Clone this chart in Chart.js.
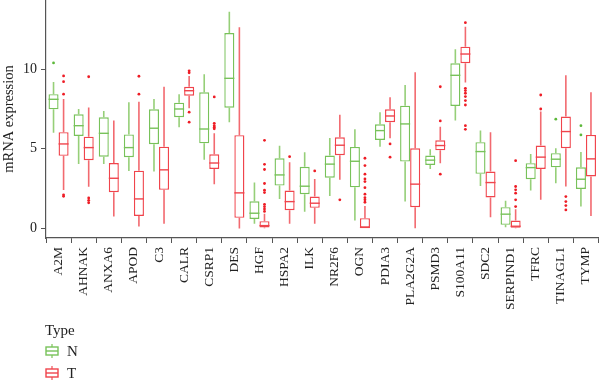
<!DOCTYPE html>
<html>
<head>
<meta charset="utf-8">
<script src="https://cdn.jsdelivr.net/npm/chart.js@4/dist/chart.umd.min.js"></script>
<style>
	body { margin: 0; background: #fff; }
	#wrap { position: relative; width: 600px; height: 382px; }
	#legend { position: absolute; left: 45px; top: 320px; font-family: "Liberation Serif", serif; font-size: 15px; color: #222; }
	#legend .row { display: flex; align-items: center; height: 22px; }
	#legend svg { margin-right: 8px; }
</style>
</head>
<body>
<div id="wrap">
	<canvas id="chart" width="600" height="382"></canvas>
	<div id="legend">
		<div style="height:20px;line-height:20px">Type</div>
		<div class="row"><svg width="14" height="16"><line x1="7" y1="1" x2="7" y2="15" stroke="#8fcc6e" stroke-width="1.4"/><rect x="1" y="4" width="12" height="8" fill="#fff" stroke="#78c25a" stroke-width="1.4"/><line x1="1" y1="8" x2="13" y2="8" stroke="#78c25a" stroke-width="1.4"/></svg>N</div>
		<div class="row"><svg width="14" height="16"><line x1="7" y1="1" x2="7" y2="15" stroke="#f26a70" stroke-width="1.4"/><rect x="1" y="4" width="12" height="8" fill="#fff" stroke="#f0444c" stroke-width="1.4"/><line x1="1" y1="8" x2="13" y2="8" stroke="#f0444c" stroke-width="1.4"/></svg>T</div>
	</div>
</div>
<script>
	const genes = ["A2M", "AHNAK", "ANXA6", "APOD", "C3", "CALR", "CSRP1", "DES", "HGF", "HSPA2", "ILK",
		"NR2F6", "OGN", "PDIA3", "PLA2G2A", "PSMD3", "S100A11", "SDC2", "SERPIND1", "TFRC", "TINAGL1", "TYMP"];

	// [lower whisker, Q1, median, Q3, upper whisker]
	const nStats = [
		[6.0, 7.48, 8.11, 8.43, 9.2], [4.04, 5.8, 6.45, 7.17, 7.5], [4.04, 4.5, 5.97, 6.98, 7.38],
		[3.6, 4.47, 5.07, 5.9, 7.92], [3.56, 5.28, 6.29, 7.48, 8.13], [6.35, 6.98, 7.5, 7.9, 8.43],
		[4.3, 5.34, 6.24, 8.55, 9.69], [6.67, 7.58, 9.43, 12.28, 13.62], [0.27, 0.58, 0.94, 1.69, 2.87],
		[1.84, 2.68, 3.35, 4.4, 5.18], [1.03, 2.14, 2.64, 3.86, 4.78], [2.03, 3.18, 4.03, 4.57, 5.68],
		[0.48, 2.57, 4.21, 5.11, 6.22], [5.13, 5.55, 6.14, 6.54, 7.3], [1.67, 4.19, 6.56, 7.71, 9.01],
		[3.73, 3.98, 4.28, 4.57, 4.97], [6.77, 7.69, 9.62, 10.38, 11.26], [2.66, 3.42, 4.82, 5.41, 6.14],
		[0.06, 0.21, 0.88, 1.32, 1.72], [2.37, 3.08, 3.81, 4.09, 4.67], [2.83, 3.83, 4.34, 4.72, 5.03],
		[1.36, 2.47, 3.08, 3.83, 4.8]
	];
	const tStats = [
		[2.4, 4.55, 5.3, 6.04, 8.13], [2.6, 4.28, 5.07, 5.76, 7.6], [0.73, 2.26, 3.14, 4.1, 6.77],
		[0.1, 0.77, 1.84, 3.62, 7.96], [0.27, 2.41, 3.67, 5.13, 8.9], [7.55, 8.34, 8.65, 8.9, 9.58],
		[2.76, 3.73, 4.1, 4.65, 5.97], [-0.02, 0.65, 2.22, 5.85, 12.64], [0.0, 0.04, 0.16, 0.44, 0.9],
		[0.27, 1.13, 1.67, 2.37, 4.15], [0.27, 1.28, 1.57, 1.99, 3.1], [3.04, 4.59, 5.22, 5.72, 7.13],
		[0.0, 0.0, 0.05, 0.63, 1.4], [5.66, 6.67, 7.06, 7.48, 8.24], [0.0, 1.32, 2.77, 5.03, 9.81],
		[4.09, 4.9, 5.2, 5.53, 6.39], [9.16, 10.38, 10.96, 11.42, 12.68], [0.69, 1.93, 2.87, 3.56, 6.04],
		[0.0, 0.02, 0.12, 0.48, 1.19], [1.78, 3.73, 4.47, 5.2, 7.34], [2.62, 5.03, 6.08, 7.02, 9.62],
		[0.77, 3.25, 4.36, 5.87, 8.55]
	];
	const nOutliers = [
		[10.4], [], [], [], [], [], [], [], [], [], [], [], [], [], [], [], [], [], [], [], [6.86], [6.45, 5.87]
	];
	const tOutliers = [
		[9.58, 9.22, 8.43, 2.1, 2.0], [9.53, 1.9, 1.75, 1.6], [], [9.56, 8.43], [], [9.9, 9.78, 7.3, 6.67],
		[8.26, 6.6, 6.45, 6.35, 6.25], [], [5.53, 4.02, 3.69, 2.81, 2.39, 2.24, 1.5, 1.35, 1.2, 1.05],
		[4.5], [3.6], [1.78], [4.4, 3.94, 3.4, 3.1, 2.93, 2.55, 2.14, 1.92, 1.78, 1.63], [5.3, 4.47], [],
		[8.9, 6.75, 3.4], [12.93, 8.8, 8.66, 8.49, 8.28, 8.03, 7.75, 6.45, 6.22], [],
		[4.25, 2.62, 2.41, 2.2, 1.78, 1.36], [8.38, 7.5], [1.99, 1.67, 1.42, 1.15], []
	];
	const yTicks = [0, 5, 10];

	const serif = "'Liberation Serif', 'Times New Roman', serif";

	const boxParts = {
		id: "boxParts",
		beforeDatasetsDraw(chart) {
			let ctx = chart.ctx, y = chart.scales.y;
			chart.data.datasets.forEach(function(ds, d) {
				let meta = chart.getDatasetMeta(d);
				ctx.save();
				ctx.strokeStyle = ds.whiskerColor;
				ctx.lineWidth = 1.6;
				ds.stats.forEach(function(s, i) {
					let x = meta.data[i].x;
					ctx.beginPath();
					ctx.moveTo(x, y.getPixelForValue(s[0]));
					ctx.lineTo(x, y.getPixelForValue(s[1]));
					ctx.moveTo(x, y.getPixelForValue(s[3]));
					ctx.lineTo(x, y.getPixelForValue(s[4]));
					ctx.stroke();
				});
				ctx.restore();
			});
		},
		afterDatasetsDraw(chart) {
			let ctx = chart.ctx, y = chart.scales.y;
			chart.data.datasets.forEach(function(ds, d) {
				let meta = chart.getDatasetMeta(d);
				ctx.save();
				ds.stats.forEach(function(s, i) {
					let bar = meta.data[i], half = bar.width / 2;
					ctx.strokeStyle = ds.borderColor;
					ctx.lineWidth = 1.4;
					ctx.beginPath();
					ctx.moveTo(bar.x - half, y.getPixelForValue(s[2]));
					ctx.lineTo(bar.x + half, y.getPixelForValue(s[2]));
					ctx.stroke();
					ctx.fillStyle = ds.outlierColor;
					for (let v of ds.outliers[i]) {
						ctx.beginPath();
						ctx.arc(bar.x, y.getPixelForValue(v), 1.4, 0, Math.PI * 2);
						ctx.fill();
					}
				});
				ctx.restore();
			});
		}
	};

	function noPad(scale) {
		scale.paddingTop = 0;
		scale.paddingBottom = 0;
		scale.paddingLeft = 0;
		scale.paddingRight = 0;
	}

	new Chart(document.getElementById("chart"), {
		type: "bar",
		data: {
			labels: genes,
			datasets: [{
				label: "N",
				data: nStats.map(s => [s[1], s[3]]),
				stats: nStats,
				outliers: nOutliers,
				backgroundColor: "#ffffff",
				borderColor: "#78c25a",
				whiskerColor: "#96cf78",
				outlierColor: "#5cb83a",
				borderWidth: 1.4,
				borderSkipped: false
			}, {
				label: "T",
				data: tStats.map(s => [s[1], s[3]]),
				stats: tStats,
				outliers: tOutliers,
				backgroundColor: "#ffffff",
				borderColor: "#f0444c",
				whiskerColor: "#f26a70",
				outlierColor: "#ee1c25",
				borderWidth: 1.4,
				borderSkipped: false
			}]
		},
		options: {
			responsive: false,
			animation: false,
			layout: { padding: { top: 0, right: 1.5, bottom: 0, left: 0 } },
			datasets: { bar: { categoryPercentage: 0.8, barPercentage: 1.0 } },
			plugins: {
				legend: { display: false },
				tooltip: { enabled: false }
			},
			scales: {
				x: {
					grid: { display: true, drawOnChartArea: false, drawTicks: true, tickLength: 5, color: "#555" },
					border: { display: true, color: "#555", width: 1.2 },
					ticks: {
						autoSkip: false,
						minRotation: 90,
						maxRotation: 90,
						padding: 4,
						color: "#222",
						font: { family: serif, size: 13.5 }
					},
					afterFit: function(scale) { scale.height = 144; noPad(scale); }
				},
				y: {
					min: -0.62,
					max: 14.36,
					grid: { display: true, drawOnChartArea: false, drawTicks: true, tickLength: 5, color: "#555" },
					border: { display: true, color: "#555", width: 1.2 },
					ticks: { padding: 4, color: "#222", font: { family: serif, size: 14 } },
					title: { display: true, text: "mRNA expression", color: "#222", padding: 0,
						font: { family: serif, size: 14.5 } },
					afterBuildTicks: function(scale) { scale.ticks = yTicks.map(v => ({ value: v })); },
					afterFit: function(scale) { scale.width = 46; noPad(scale); }
				}
			}
		},
		plugins: [boxParts]
	});
</script>
</body>
</html>
